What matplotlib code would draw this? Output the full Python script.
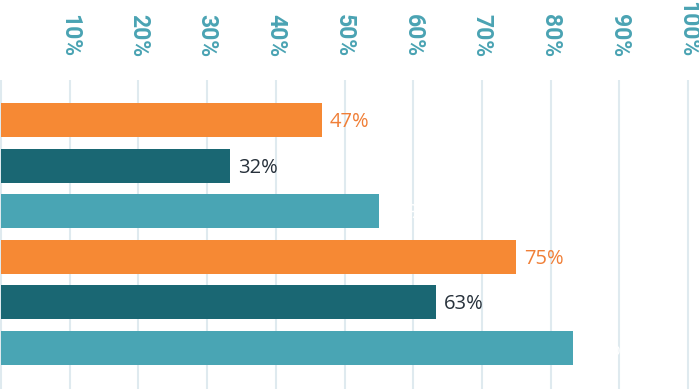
import numpy as np
from matplotlib import pyplot as plt

# bar values (percent), top to bottom
values = [46.7, 33.3, 55.0, 75.0, 63.3, 83.2]
labels = ['47%', '32%', '55%', '75%', '63%', '83%']
bar_colors = ['#f68934', '#1a6773', '#49a5b4', '#f68934', '#1a6773', '#49a5b4']
label_colors = ['#f07f37', '#27313b', '#ffffff', '#f07f37', '#27313b', '#ffffff']
ticks = [10, 20, 30, 40, 50, 60, 70, 80, 90, 100]
tick_labels = [f'{t}%' for t in ticks]

px = 6.87  # pixels per percent
fig = plt.figure(figsize=(6.99, 3.89), dpi=100)
ax = fig.add_axes([0, 0, 1, 309 / 389])

y = np.arange(len(values))
ax.barh(y, values, height=0.745, color=bar_colors, zorder=2)
for yi, v, lab, c in zip(y, values, labels, label_colors):
    ax.text(v + 8 / px, yi + 0.04, lab, color=c, fontsize=14.5, va='center', ha='left',
            family='Open Sans', zorder=3)

xmin = -1 / px
ax.set_xlim(xmin, xmin + 699 / px)
ax.set_ylim(5.9, -0.88)

ax.set_xticks(ticks)
ax.set_xticklabels(tick_labels)
ax.xaxis.tick_top()
ax.tick_params(axis='x', length=0, pad=16.5, labelsize=16.5, labelcolor='#4aa3b3',
               labelrotation=-90)
for t in ax.get_xticklabels():
    t.set_family('Roboto')
    t.set_weight('bold')
    t.set_va('bottom')
ax.set_yticks([])
for x in [0] + ticks:
    ax.axvline(x, color='#dfeaef', lw=1.5, zorder=1)
for s in ax.spines.values():
    s.set_visible(False)

fig.savefig('out.png', dpi=100)
